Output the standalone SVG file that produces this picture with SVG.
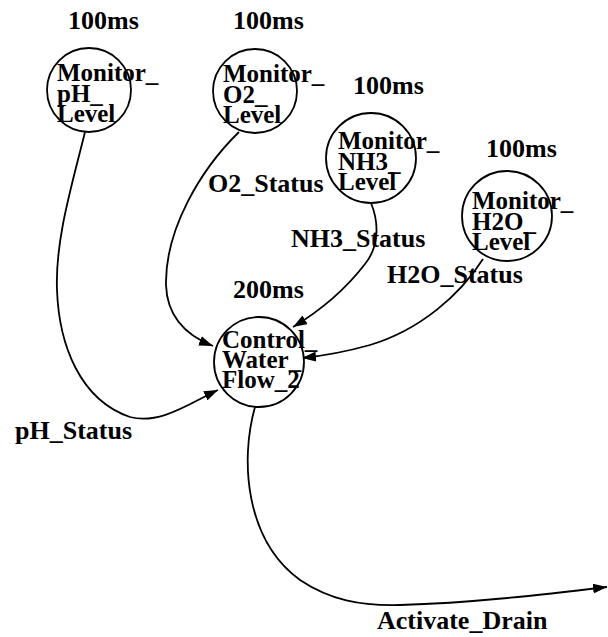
<svg xmlns="http://www.w3.org/2000/svg" width="608" height="637" viewBox="0 0 608 637">
  <defs>
    <style>
      .bubble { fill: #ffffff; stroke: #000000; stroke-width: 1.8; }
      .lbl { font-family: "Liberation Serif", "Times New Roman", serif; font-weight: bold; font-size: 26px; fill: #000000; }
      .name { font-family: "Liberation Serif", "Times New Roman", serif; font-weight: bold; font-size: 25px; fill: #000000; }
      .flow { fill: none; stroke: #000000; stroke-width: 1.8; }
    </style>
    <marker id="arrow" viewBox="0 0 14 10" refX="14" refY="5" markerWidth="14" markerHeight="10" markerUnits="userSpaceOnUse" orient="auto">
      <path d="M0,0 L14,5 L0,10 z" fill="#000000"/>
    </marker>
  </defs>

  <rect width="608" height="637" fill="#ffffff"/>

  <!-- data flows between operators -->
  <g id="connectors">
    <path class="flow" d="M85,132 C72,185 55,240 57,290 C59,345 80,400 130,417 C160,425 190,403 218,390" marker-end="url(#arrow)"/>
    <path class="flow" d="M239,132 C200,170 165,230 166,285 C167,315 185,335 213,346" marker-end="url(#arrow)"/>
    <path class="flow" d="M371,203 C380,225 378,248 365,264 C345,290 318,312 293,327" marker-end="url(#arrow)"/>
    <path class="flow" d="M483,259 C460,295 420,330 370,345 C345,352 322,356 302,358" marker-end="url(#arrow)"/>
    <path class="flow" d="M255,407 C240,460 245,540 300,580 C330,600 360,606 400,605 C470,603 540,595 607,587" marker-end="url(#arrow)"/>
    <text class="lbl" x="15" y="439">pH_Status</text>
    <text class="lbl" x="208" y="192">O2_Status</text>
    <text class="lbl" x="291" y="247">NH3_Status</text>
    <text class="lbl" x="387" y="283">H2O_Status</text>
    <text class="lbl" x="377" y="629">Activate_Drain</text>
  </g>

  <!-- operators -->
  <g id="monitor_ph">
    <circle class="bubble" cx="89" cy="90" r="42"/>
    <text class="lbl" x="68" y="29">100ms</text>
    <text class="name" x="57" y="81">Monitor_</text>
    <text class="name" x="57" y="102">pH_</text>
    <text class="name" x="57" y="122">Level</text>
  </g>

  <g id="monitor_o2">
    <circle class="bubble" cx="255" cy="91" r="42"/>
    <text class="lbl" x="233" y="29">100ms</text>
    <text class="name" x="223" y="82">Monitor_</text>
    <text class="name" x="223" y="103">O2_</text>
    <text class="name" x="223" y="123">Level</text>
  </g>

  <g id="monitor_nh3">
    <circle class="bubble" cx="371" cy="158" r="45"/>
    <text class="lbl" x="353" y="94">100ms</text>
    <text class="name" x="338" y="149">Monitor_</text>
    <text class="name" x="338" y="170">NH3_</text>
    <text class="name" x="338" y="190">Level</text>
  </g>

  <g id="monitor_h2o">
    <circle class="bubble" cx="507" cy="216" r="45"/>
    <text class="lbl" x="486" y="157">100ms</text>
    <text class="name" x="472" y="209">Monitor_</text>
    <text class="name" x="472" y="230">H2O_</text>
    <text class="name" x="472" y="250">Level</text>
  </g>

  <g id="control_water_flow_2">
    <circle class="bubble" cx="259" cy="362" r="45"/>
    <text class="lbl" x="233" y="298">200ms</text>
    <text class="name" x="222" y="348">Control_</text>
    <text class="name" x="222" y="368">Water_</text>
    <text class="name" x="222" y="388">Flow_2</text>
  </g>
</svg>
